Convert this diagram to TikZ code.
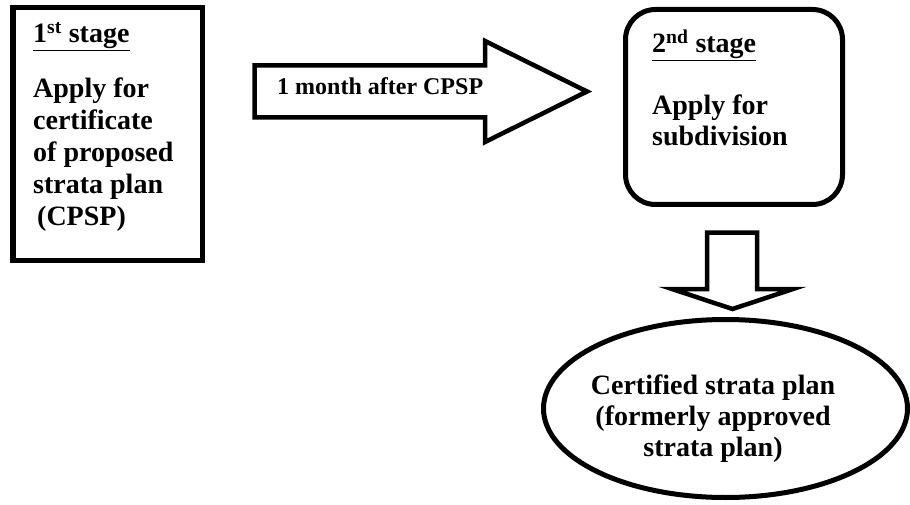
\documentclass[tikz,border=0pt]{standalone}
\usepackage{fontspec}
\setmainfont{Liberation Serif}
\usetikzlibrary{shapes.geometric}
\begin{document}
\begin{tikzpicture}[x=1pt,y=-1pt,
  boxframe/.style={draw=black,rectangle,inner sep=0pt,outer sep=0pt,anchor=north west},
  blockarrow/.style={draw=black,line width=4.5pt,line join=miter,miter limit=10},
  bigtxt/.style={anchor=base west,inner sep=0pt,font=\bfseries\fontsize{28}{32}\selectfont},
  midtxt/.style={anchor=base west,inner sep=0pt,font=\bfseries\fontsize{24}{28}\selectfont}]
\useasboundingbox (0,0) rectangle (910,505);
\fill[white] (0,0) rectangle (910,505);

% stage 1 box
\node[boxframe,line width=5.5pt,minimum width=189.5pt,minimum height=252.5pt] (box1) at (12.75,7.75) {};
\node[bigtxt] (h1) at (33,43) {\underline{1\textsuperscript{st} stage}};
\node[bigtxt] (t1) at (33,98) {\begin{tabular}[t]{@{}l@{}}Apply for\\ certificate\\ of proposed\\ strata plan\\ \hspace{4pt}(CPSP)\end{tabular}};

% right block arrow
\coordinate (a1) at (254.5,65.5);
\coordinate (a2) at (485,65.5);
\coordinate (a3) at (485,41);
\coordinate (a4) at (587,91.5);
\coordinate (a5) at (485,142);
\coordinate (a6) at (485,117.5);
\coordinate (a7) at (254.5,117.5);
\draw[blockarrow] (a1) -- (a2) -- (a3) -- (a4) -- (a5) -- (a6) -- (a7) -- cycle;
\node[midtxt] (lab) at (277,95) {1 month after CPSP};

% stage 2 box
\node[boxframe,line width=5pt,rounded corners=30pt,minimum width=217pt,minimum height=195pt] (box2) at (625.5,9.5) {};
\node[bigtxt] (h2) at (652,53) {\underline{2\textsuperscript{nd} stage}};
\node[bigtxt,font=\bfseries\fontsize{28}{31}\selectfont] (t2) at (652,115) {\begin{tabular}[t]{@{}l@{}}Apply for\\ subdivision\end{tabular}};

% down block arrow
\coordinate (d1) at (707,232.5);
\coordinate (d2) at (757,232.5);
\coordinate (d3) at (757,289);
\coordinate (d4) at (793,289);
\coordinate (d5) at (732.5,309);
\coordinate (d6) at (672,289);
\coordinate (d7) at (707,289);
\draw[blockarrow] (d1) -- (d2) -- (d3) -- (d4) -- (d5) -- (d6) -- (d7) -- cycle;

% certified plan ellipse
\node[ellipse,draw=black,line width=5pt,inner sep=0pt,minimum width=364pt,minimum height=178pt] (cert) at (725.5,408.5) {};
\node[anchor=base,inner sep=0pt,font=\bfseries\fontsize{28}{31}\selectfont] (t3) at (713,394) {\begin{tabular}[t]{@{}c@{}}Certified strata plan\\ (formerly approved\\ strata plan)\end{tabular}};
\end{tikzpicture}
\end{document}
